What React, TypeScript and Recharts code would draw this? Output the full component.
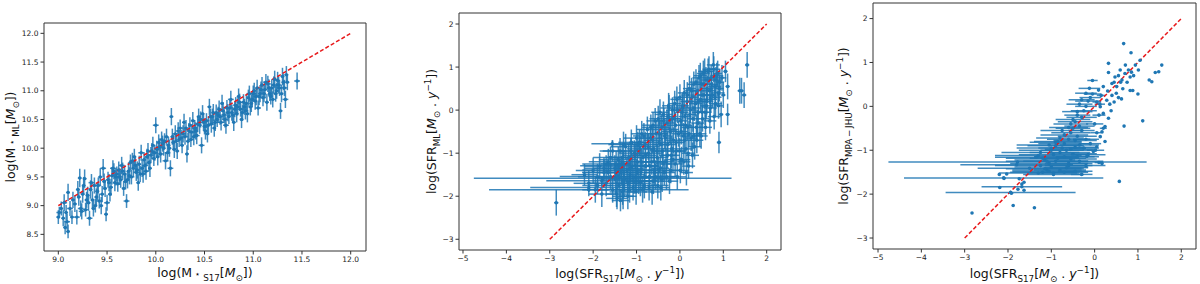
import React from 'react';
import { ScatterChart, Scatter, XAxis, YAxis, ErrorBar, ReferenceLine } from 'recharts';

// ---- DATA ----
// Panel 1: log M* (S17) vs log M* (ML): [x, y, xErr, yErr]
const massPoints: number[][] = [
  [9.00, 8.80, 0.02, 0.12], [9.01, 8.88, 0.03, 0.10], [9.03, 8.95, 0.02, 0.12], [9.05, 8.78, 0.02, 0.14],
  [9.06, 9.05, 0.03, 0.15], [9.07, 8.62, 0.02, 0.12], [9.08, 8.88, 0.02, 0.13], [9.09, 8.72, 0.03, 0.14],
  [9.10, 8.55, 0.02, 0.12], [9.10, 9.23, 0.02, 0.15], [9.12, 8.95, 0.03, 0.13], [9.14, 8.80, 0.02, 0.12],
  [9.17, 9.03, 0.02, 0.14], [9.19, 8.80, 0.03, 0.13], [9.20, 9.28, 0.02, 0.15], [9.22, 9.48, 0.02, 0.16],
  [9.23, 8.95, 0.03, 0.14], [9.25, 9.20, 0.02, 0.15], [9.27, 9.47, 0.02, 0.16], [9.28, 8.93, 0.03, 0.12],
  [9.30, 9.18, 0.02, 0.15], [9.31, 9.05, 0.02, 0.14], [9.32, 8.78, 0.03, 0.13], [9.33, 9.28, 0.02, 0.16],
  [9.35, 9.10, 0.02, 0.15], [9.37, 9.35, 0.03, 0.14], [9.38, 9.00, 0.02, 0.12], [9.40, 9.25, 0.02, 0.16],
  [9.42, 9.08, 0.03, 0.13], [9.43, 9.50, 0.02, 0.15], [9.45, 9.20, 0.02, 0.14], [9.46, 9.65, 0.03, 0.16],
  [9.48, 9.30, 0.02, 0.15], [9.49, 8.85, 0.02, 0.12], [9.50, 9.05, 0.03, 0.14], [9.52, 9.40, 0.02, 0.15],
  [9.53, 9.20, 0.02, 0.13], [9.55, 9.52, 0.03, 0.15], [9.57, 9.60, 0.02, 0.14], [9.58, 9.40, 0.02, 0.15],
  [9.60, 9.55, 0.03, 0.13], [9.62, 9.62, 0.02, 0.15], [9.64, 9.45, 0.02, 0.14], [9.65, 9.70, 0.03, 0.15],
  [9.67, 9.30, 0.02, 0.13], [9.68, 9.55, 0.02, 0.15], [9.70, 9.08, 0.03, 0.12], [9.72, 9.60, 0.02, 0.15],
  [9.74, 9.75, 0.02, 0.14], [9.75, 9.50, 0.03, 0.13], [9.77, 9.65, 0.02, 0.15], [9.78, 9.85, 0.02, 0.14],
  [9.80, 9.58, 0.03, 0.15], [9.82, 9.40, 0.02, 0.14], [9.83, 9.72, 0.02, 0.15], [9.85, 9.92, 0.03, 0.14],
  [9.86, 9.65, 0.02, 0.15], [9.88, 9.80, 0.02, 0.13], [9.90, 9.60, 0.03, 0.15], [9.92, 9.95, 0.02, 0.14],
  [9.93, 9.75, 0.02, 0.15], [9.95, 9.88, 0.03, 0.14], [9.97, 10.05, 0.02, 0.15], [9.98, 9.82, 0.02, 0.13],
  [10.00, 10.40, 0.03, 0.14], [10.01, 9.98, 0.02, 0.15], [10.03, 10.10, 0.02, 0.14], [10.05, 9.90, 0.03, 0.15],
  [10.06, 10.15, 0.02, 0.14], [10.08, 10.00, 0.02, 0.13], [10.10, 9.78, 0.03, 0.15], [10.11, 10.20, 0.02, 0.14],
  [10.13, 10.05, 0.02, 0.15], [10.15, 9.65, 0.03, 0.14], [10.16, 10.55, 0.02, 0.15], [10.18, 10.10, 0.02, 0.14],
  [10.20, 10.25, 0.03, 0.15], [10.22, 9.95, 0.02, 0.14], [10.24, 10.15, 0.02, 0.13], [10.25, 10.35, 0.03, 0.15],
  [10.27, 10.05, 0.02, 0.14], [10.29, 10.45, 0.02, 0.15], [10.30, 10.20, 0.03, 0.14], [10.32, 9.90, 0.02, 0.15],
  [10.34, 10.30, 0.02, 0.14], [10.36, 10.15, 0.03, 0.13], [10.38, 10.48, 0.02, 0.15], [10.40, 10.35, 0.02, 0.14],
  [10.42, 10.22, 0.03, 0.15], [10.44, 10.55, 0.02, 0.14], [10.45, 10.40, 0.02, 0.15], [10.47, 10.05, 0.03, 0.14],
  [10.48, 10.60, 0.02, 0.15], [10.50, 10.38, 0.02, 0.14], [10.52, 10.48, 0.03, 0.13], [10.53, 10.25, 0.02, 0.15],
  [10.55, 10.72, 0.02, 0.14], [10.57, 10.42, 0.03, 0.15], [10.58, 10.55, 0.02, 0.14], [10.60, 10.35, 0.02, 0.15],
  [10.62, 10.62, 0.03, 0.14], [10.63, 10.50, 0.02, 0.13], [10.65, 10.68, 0.02, 0.15], [10.67, 10.45, 0.03, 0.14],
  [10.68, 10.78, 0.02, 0.15], [10.70, 10.58, 0.02, 0.14], [10.72, 10.40, 0.03, 0.15], [10.73, 10.70, 0.02, 0.14],
  [10.75, 10.55, 0.02, 0.13], [10.77, 10.85, 0.03, 0.15], [10.78, 10.62, 0.02, 0.14], [10.80, 10.45, 0.02, 0.15],
  [10.82, 10.75, 0.03, 0.14], [10.83, 10.60, 0.02, 0.15], [10.85, 10.90, 0.02, 0.14], [10.87, 10.68, 0.03, 0.13],
  [10.88, 10.50, 0.02, 0.15], [10.90, 10.80, 0.02, 0.14], [10.92, 10.65, 0.03, 0.15], [10.95, 10.88, 0.02, 0.14],
  [10.97, 10.72, 0.02, 0.15], [11.00, 10.95, 0.03, 0.14], [11.02, 10.82, 0.02, 0.15], [11.04, 11.05, 0.02, 0.14],
  [11.05, 10.70, 0.03, 0.13], [11.07, 10.95, 0.02, 0.15], [11.09, 11.10, 0.02, 0.14], [11.10, 10.88, 0.03, 0.15],
  [11.12, 11.02, 0.02, 0.14], [11.14, 10.80, 0.02, 0.15], [11.15, 11.12, 0.03, 0.14], [11.17, 10.95, 0.02, 0.13],
  [11.19, 11.05, 0.02, 0.15], [11.20, 10.85, 0.03, 0.14], [11.22, 11.20, 0.02, 0.15], [11.24, 11.00, 0.02, 0.14],
  [11.26, 11.10, 0.03, 0.15], [11.28, 10.65, 0.02, 0.14], [11.30, 11.25, 0.02, 0.15], [11.32, 11.05, 0.03, 0.14],
  [11.34, 11.28, 0.02, 0.15], [11.35, 11.15, 0.02, 0.14], [11.45, 11.17, 0.03, 0.15],
  [10.35, 10.40, 0.02, 0.14], [10.41, 10.30, 0.02, 0.15], [10.46, 10.50, 0.03, 0.14], [10.51, 10.30, 0.02, 0.15],
  [10.56, 10.55, 0.02, 0.14], [10.61, 10.45, 0.03, 0.15], [10.64, 10.58, 0.02, 0.14], [10.69, 10.65, 0.02, 0.15],
  [10.71, 10.50, 0.03, 0.14], [10.76, 10.70, 0.02, 0.15], [10.79, 10.58, 0.02, 0.14], [10.84, 10.72, 0.03, 0.15],
  [10.89, 10.62, 0.02, 0.14], [10.93, 10.78, 0.02, 0.15], [10.99, 10.85, 0.03, 0.14], [11.06, 10.90, 0.02, 0.15],
  [9.96, 9.95, 0.02, 0.14], [10.04, 10.02, 0.03, 0.15], [10.09, 10.12, 0.02, 0.14], [10.14, 10.00, 0.02, 0.15],
  [9.63, 9.50, 0.03, 0.14], [9.71, 9.45, 0.02, 0.15], [9.79, 9.70, 0.02, 0.14], [9.87, 9.55, 0.03, 0.15],
  [9.51, 9.45, 0.02, 0.14], [9.54, 9.32, 0.02, 0.15], [9.56, 9.65, 0.03, 0.14], [9.59, 9.50, 0.02, 0.15],
  [9.61, 9.38, 0.02, 0.14], [9.66, 9.60, 0.03, 0.15], [9.69, 9.42, 0.02, 0.14], [9.73, 9.52, 0.02, 0.15],
  [9.76, 9.78, 0.03, 0.14], [9.81, 9.62, 0.02, 0.15], [9.84, 9.55, 0.02, 0.14], [9.89, 9.70, 0.03, 0.15],
  [9.91, 9.85, 0.02, 0.14], [9.94, 9.65, 0.02, 0.15], [9.99, 9.92, 0.03, 0.14], [10.02, 9.85, 0.02, 0.15],
  [10.07, 10.08, 0.02, 0.14], [10.12, 9.92, 0.03, 0.15], [10.17, 10.20, 0.02, 0.14], [10.19, 9.98, 0.02, 0.15],
  [10.21, 10.12, 0.03, 0.14], [10.23, 10.30, 0.02, 0.15], [10.26, 10.18, 0.02, 0.14], [10.28, 10.25, 0.03, 0.15],
  [10.31, 10.35, 0.02, 0.14], [10.33, 10.12, 0.02, 0.15], [10.37, 10.28, 0.03, 0.14], [10.39, 10.20, 0.02, 0.15],
  [10.43, 10.42, 0.02, 0.14], [10.49, 10.45, 0.03, 0.15], [10.54, 10.40, 0.02, 0.14], [10.59, 10.62, 0.02, 0.15],
  [10.66, 10.55, 0.03, 0.14], [10.74, 10.62, 0.02, 0.15], [10.81, 10.68, 0.02, 0.14], [10.86, 10.80, 0.03, 0.15],
  [10.91, 10.72, 0.02, 0.14], [10.94, 10.60, 0.02, 0.15], [10.96, 10.95, 0.03, 0.14], [10.98, 10.78, 0.02, 0.15],
  [11.01, 11.00, 0.02, 0.14], [11.03, 10.90, 0.03, 0.15], [11.08, 11.02, 0.02, 0.14], [11.11, 10.95, 0.02, 0.15],
  [11.13, 11.15, 0.03, 0.14], [11.16, 11.05, 0.02, 0.15], [11.18, 10.90, 0.02, 0.14], [11.21, 11.10, 0.03, 0.15],
  [11.23, 10.95, 0.02, 0.14], [11.25, 11.18, 0.02, 0.15], [11.27, 11.05, 0.03, 0.14], [11.29, 10.95, 0.02, 0.15],
  [11.31, 11.15, 0.02, 0.14], [11.33, 10.85, 0.03, 0.15], [9.15, 9.10, 0.02, 0.14], [9.21, 9.15, 0.02, 0.15],
  [9.24, 8.90, 0.03, 0.14], [9.26, 9.35, 0.02, 0.15], [9.29, 9.10, 0.02, 0.14], [9.34, 9.40, 0.03, 0.15],
  [9.36, 8.95, 0.02, 0.14], [9.39, 9.15, 0.02, 0.15], [9.41, 9.35, 0.03, 0.14], [9.44, 9.00, 0.02, 0.15],
  [9.47, 9.42, 0.02, 0.14],
];

// Panel 2: log SFR (S17) vs log SFR (ML): [x, y, xErr, yErr]
const sfrMlPoints: number[][] = [
  [-1.78, -1.58, 2.97, 0.05], [-2.10, -1.85, 2.30, 0.05], [-2.10, -1.80, 1.35, 0.05], [-1.56, -0.78, 0.48, 0.08],
  [-1.40, -1.54, 1.37, 0.10], [-1.80, -1.64, 1.28, 0.10], [-1.40, -1.29, 0.90, 0.15], [-1.35, -1.39, 0.90, 0.20],
  [-2.85, -2.15, 0.05, 0.30],
  [-2.20, -1.50, 0.30, 0.25], [-2.10, -1.70, 0.35, 0.30], [-2.00, -1.40, 0.40, 0.30], [-1.95, -1.85, 0.30, 0.30],
  [-1.90, -1.55, 0.45, 0.30], [-1.85, -1.30, 0.35, 0.30], [-1.80, -1.95, 0.30, 0.30], [-1.75, -1.45, 0.50, 0.35],
  [-1.70, -1.70, 0.40, 0.30], [-1.65, -1.20, 0.45, 0.30], [-1.60, -1.55, 0.35, 0.30], [-1.55, -1.85, 0.30, 0.30],
  [-1.50, -1.35, 0.50, 0.30], [-1.48, -1.60, 0.40, 0.35], [-1.45, -2.05, 0.25, 0.25], [-1.42, -1.15, 0.45, 0.30],
  [-1.40, -1.75, 0.35, 0.30], [-1.38, -0.95, 0.40, 0.30], [-1.35, -1.45, 0.50, 0.30], [-1.32, -1.90, 0.30, 0.30],
  [-1.30, -1.25, 0.45, 0.30], [-1.28, -1.60, 0.35, 0.30], [-1.25, -0.85, 0.35, 0.30], [-1.22, -1.40, 0.40, 0.30],
  [-1.20, -1.70, 0.30, 0.30], [-1.18, -1.10, 0.40, 0.30], [-1.15, -1.50, 0.35, 0.30], [-1.12, -0.75, 0.30, 0.30],
  [-1.10, -1.30, 0.40, 0.30], [-1.08, -1.80, 0.30, 0.30], [-1.05, -1.00, 0.35, 0.30], [-1.02, -1.55, 0.30, 0.30],
  [-1.00, -0.65, 0.30, 0.30], [-0.98, -1.20, 0.35, 0.30], [-0.95, -1.65, 0.30, 0.30], [-0.92, -0.90, 0.30, 0.30],
  [-0.90, -1.40, 0.35, 0.30], [-0.88, -0.55, 0.25, 0.30], [-0.85, -1.10, 0.30, 0.30], [-0.82, -1.75, 0.25, 0.30],
  [-0.80, -0.80, 0.30, 0.30], [-0.78, -1.30, 0.30, 0.30], [-0.75, -0.45, 0.25, 0.30], [-0.72, -1.00, 0.30, 0.30],
  [-0.70, -1.55, 0.25, 0.30], [-0.68, -0.65, 0.25, 0.30], [-0.65, -1.20, 0.30, 0.30], [-0.62, -0.35, 0.25, 0.30],
  [-0.60, -0.90, 0.25, 0.30], [-0.58, -1.45, 0.25, 0.30], [-0.55, -0.55, 0.25, 0.30], [-0.52, -1.10, 0.25, 0.30],
  [-0.50, -0.20, 0.20, 0.30], [-0.48, -0.75, 0.25, 0.30], [-0.45, -1.35, 0.20, 0.30], [-0.42, -0.40, 0.20, 0.30],
  [-0.40, -0.95, 0.25, 0.30], [-0.38, -0.10, 0.20, 0.30], [-0.35, -0.60, 0.20, 0.30], [-0.32, -1.20, 0.20, 0.30],
  [-0.30, -0.30, 0.20, 0.30], [-0.28, -0.80, 0.20, 0.30], [-0.25, 0.05, 0.20, 0.30], [-0.22, -0.50, 0.20, 0.30],
  [-0.20, -1.05, 0.20, 0.30], [-0.18, -0.20, 0.20, 0.30], [-0.15, -0.70, 0.20, 0.30], [-0.12, 0.15, 0.15, 0.30],
  [-0.10, -0.35, 0.20, 0.30], [-0.08, -0.95, 0.20, 0.30], [-0.05, 0.00, 0.15, 0.30], [-0.03, -0.55, 0.20, 0.30],
  [0.00, 0.30, 0.15, 0.30], [0.02, -0.25, 0.15, 0.30], [0.04, -1.15, 0.20, 0.30], [0.06, 0.10, 0.15, 0.30],
  [0.08, -0.60, 0.15, 0.30], [0.10, 0.40, 0.15, 0.30], [0.12, -0.15, 0.15, 0.30], [0.14, -0.90, 0.15, 0.30],
  [0.16, 0.20, 0.15, 0.30], [0.18, -0.40, 0.15, 0.30], [0.20, -1.30, 0.15, 0.30], [0.22, 0.50, 0.15, 0.30],
  [0.24, 0.00, 0.15, 0.30], [0.26, -0.65, 0.15, 0.30], [0.28, 0.30, 0.15, 0.30], [0.30, -0.20, 0.15, 0.30],
  [0.32, 0.60, 0.15, 0.30], [0.34, -0.85, 0.15, 0.30], [0.36, 0.15, 0.15, 0.30], [0.38, -0.40, 0.15, 0.30],
  [0.40, 0.45, 0.15, 0.30], [0.42, -0.05, 0.15, 0.30], [0.44, 0.75, 0.15, 0.30], [0.46, -0.55, 0.15, 0.30],
  [0.48, 0.25, 0.15, 0.30], [0.50, 0.60, 0.15, 0.30], [0.52, -0.20, 0.15, 0.30], [0.54, 0.85, 0.15, 0.30],
  [0.56, 0.35, 0.15, 0.30], [0.58, -0.05, 0.15, 0.30], [0.60, 0.70, 0.15, 0.30], [0.62, 0.20, 0.15, 0.30],
  [0.65, 0.90, 0.15, 0.30], [0.68, 0.45, 0.15, 0.30], [0.70, 0.05, 0.15, 0.30], [0.72, 0.75, 0.15, 0.30],
  [0.75, 0.35, 0.15, 0.30], [0.78, 0.95, 0.15, 0.30], [0.80, 0.55, 0.15, 0.30], [0.82, 0.15, 0.15, 0.30],
  [0.85, 0.80, 0.15, 0.30], [0.88, 0.40, 0.15, 0.30], [0.90, -0.75, 0.05, 0.25], [0.92, 0.65, 0.10, 0.30],
  [0.95, -0.10, 0.05, 0.30], [0.97, 0.75, 0.10, 0.30], [1.00, 0.35, 0.05, 0.30], [1.05, 0.90, 0.05, 0.25],
  [1.10, 0.55, 0.05, 0.30], [1.10, -0.10, 0.05, 0.25], [1.38, 0.45, 0.05, 0.30], [1.42, 0.45, 0.05, 0.30],
  [1.48, 0.35, 0.05, 0.30], [1.55, 1.05, 0.05, 0.30],
  [-1.46, -1.95, 0.25, 0.30], [-1.44, -1.55, 0.30, 0.30], [-1.47, -1.25, 0.35, 0.30],
  [-1.31, -2.00, 0.25, 0.30], [-1.29, -1.70, 0.30, 0.30], [-1.33, -1.10, 0.35, 0.30],
  [-1.16, -1.85, 0.25, 0.30], [-1.14, -1.35, 0.30, 0.30], [-1.13, -0.95, 0.30, 0.30],
  [-1.01, -1.90, 0.25, 0.30], [-0.99, -1.45, 0.30, 0.30], [-1.03, -1.05, 0.30, 0.30], [-0.97, -0.80, 0.25, 0.30],
  [-0.91, -1.70, 0.25, 0.30], [-0.89, -1.20, 0.30, 0.30], [-0.93, -0.75, 0.25, 0.30],
  [-0.81, -1.55, 0.25, 0.30], [-0.79, -1.05, 0.25, 0.30], [-0.83, -0.60, 0.25, 0.30],
  [-0.71, -1.80, 0.25, 0.30], [-0.69, -1.30, 0.25, 0.30], [-0.73, -0.85, 0.25, 0.30], [-0.67, -0.40, 0.20, 0.30],
  [-0.61, -1.65, 0.25, 0.30], [-0.59, -1.20, 0.25, 0.30], [-0.63, -0.70, 0.20, 0.30], [-0.57, -0.25, 0.20, 0.30],
  [-0.51, -1.75, 0.25, 0.30], [-0.49, -1.40, 0.25, 0.30], [-0.53, -0.95, 0.20, 0.30], [-0.47, -0.55, 0.20, 0.30], [-0.46, -0.05, 0.20, 0.30],
  [-0.41, -1.60, 0.20, 0.30], [-0.39, -1.25, 0.20, 0.30], [-0.43, -0.80, 0.20, 0.30], [-0.37, -0.25, 0.20, 0.30],
  [-0.31, -1.55, 0.20, 0.30], [-0.29, -1.05, 0.20, 0.30], [-0.33, -0.65, 0.20, 0.30], [-0.27, -0.15, 0.20, 0.30], [-0.26, 0.10, 0.15, 0.30],
  [-0.21, -1.40, 0.20, 0.30], [-0.19, -0.90, 0.20, 0.30], [-0.23, -0.45, 0.20, 0.30], [-0.17, 0.00, 0.15, 0.30],
  [-0.11, -1.25, 0.20, 0.30], [-0.09, -0.75, 0.20, 0.30], [-0.13, -0.20, 0.15, 0.30], [-0.07, 0.25, 0.15, 0.30],
  [0.01, -1.40, 0.20, 0.30], [-0.01, -0.95, 0.15, 0.30], [0.03, -0.50, 0.15, 0.30], [0.05, -0.05, 0.15, 0.30],
  [0.09, -1.20, 0.15, 0.30], [0.11, -0.70, 0.15, 0.30], [0.13, -0.35, 0.15, 0.30], [0.07, 0.05, 0.15, 0.30],
  [0.19, -1.00, 0.15, 0.30], [0.21, -0.55, 0.15, 0.30], [0.23, -0.10, 0.15, 0.30], [0.17, 0.35, 0.15, 0.30],
  [0.29, -1.05, 0.15, 0.30], [0.31, -0.60, 0.15, 0.30], [0.33, 0.05, 0.15, 0.30], [0.27, 0.45, 0.15, 0.30],
  [0.39, -0.70, 0.15, 0.30], [0.41, -0.30, 0.15, 0.30], [0.43, 0.20, 0.15, 0.30], [0.37, 0.65, 0.15, 0.30],
  [0.49, -0.60, 0.15, 0.30], [0.51, -0.05, 0.15, 0.30], [0.53, 0.35, 0.15, 0.30], [0.47, 0.80, 0.15, 0.30],
  [0.59, -0.40, 0.15, 0.30], [0.61, 0.10, 0.15, 0.30], [0.63, 0.50, 0.15, 0.30], [0.57, 0.90, 0.15, 0.30],
  [0.69, -0.25, 0.15, 0.30], [0.71, 0.25, 0.15, 0.30], [0.73, 0.60, 0.15, 0.30], [0.67, 0.95, 0.15, 0.30],
  [0.79, -0.15, 0.15, 0.30], [0.81, 0.30, 0.15, 0.30], [0.83, 0.70, 0.15, 0.30], [0.77, 1.05, 0.15, 0.30],
  [0.89, 0.10, 0.10, 0.30], [0.91, 0.50, 0.10, 0.30], [0.87, 0.85, 0.10, 0.30],
  [-1.70, -1.25, 0.55, 0.20], [-1.65, -1.45, 0.60, 0.20], [-1.90, -1.75, 0.35, 0.20], [-1.75, -1.35, 0.45, 0.20],
  [-1.60, -1.10, 0.40, 0.25], [-1.55, -0.95, 0.30, 0.25], [-1.30, -0.80, 0.35, 0.30],
  [-1.37, -2.10, 0.20, 0.25], [-1.20, -2.00, 0.20, 0.30], [-0.86, -1.85, 0.20, 0.30], [-0.64, -1.90, 0.20, 0.30],
  [-0.44, -1.80, 0.20, 0.30], [-0.24, -1.65, 0.20, 0.30], [-0.06, -1.55, 0.20, 0.30], [0.15, -1.45, 0.15, 0.30],
  [-0.56, -1.55, 0.25, 0.30], [-0.36, -1.45, 0.25, 0.30], [-0.16, -1.15, 0.20, 0.30], [-1.06, -1.65, 0.30, 0.30],
];

// Panel 3: log SFR (S17) vs log SFR (MPA-JHU): [x, y, xErr]
const sfrMpaPoints: number[][] = [
  [-1.78, -1.27, 2.98], [-2.10, -1.63, 2.30], [-1.94, -1.96, 1.50], [-1.68, -1.83, 0.93],
  [-1.80, -1.33, 1.30], [-1.50, -1.41, 1.20], [-1.35, -1.16, 0.95],
  [-1.20, -1.50, 0.75], [-1.10, -1.45, 0.80], [-1.00, -1.38, 0.85], [-0.95, -1.52, 0.60],
  [-1.05, -1.30, 0.90], [-0.90, -1.25, 0.75], [-1.15, -1.22, 0.70], [-0.85, -1.18, 0.65],
  [-0.95, -1.10, 0.80], [-0.80, -1.05, 0.70], [-1.00, -1.00, 0.75], [-0.75, -0.95, 0.55],
  [-0.90, -0.90, 0.65], [-0.70, -0.85, 0.60], [-0.85, -0.80, 0.55], [-0.65, -1.40, 0.50],
  [-0.60, -1.30, 0.55], [-0.55, -1.20, 0.60], [-0.70, -1.15, 0.70], [-0.50, -1.08, 0.55],
  [-0.65, -1.00, 0.60], [-0.45, -0.93, 0.50], [-0.60, -0.75, 0.50], [-0.40, -0.68, 0.45],
  [-0.55, -0.60, 0.45], [-0.50, -0.50, 0.40], [-0.35, -0.45, 0.35], [-0.45, -0.35, 0.40],
  [-0.30, -0.25, 0.35], [-0.40, -0.20, 0.30], [-0.25, -0.10, 0.30], [-0.20, 0.00, 0.25],
  [-0.15, 0.12, 0.30], [-0.10, 0.20, 0.25], [-0.05, 0.28, 0.20], [-0.12, 0.41, 0.25],
  [-0.05, 0.59, 0.12], [-0.30, -0.55, 0.30], [-0.20, -0.75, 0.30], [-0.10, -0.85, 0.25],
  [-0.25, -0.95, 0.35], [-0.15, -1.10, 0.40], [-0.35, -1.25, 0.55], [-0.20, -1.35, 0.45],
  [-0.45, -1.48, 0.40], [-0.30, -1.55, 0.25], [0.00, -0.40, 0.20], [0.05, -0.60, 0.15],
  [0.10, -0.20, 0.15], [0.02, -1.00, 0.20], [0.10, -1.28, 0.10], [0.05, 0.10, 0.10],
  [0.12, 0.05, 0.12], [0.15, 0.25, 0.10], [0.20, -0.50, 0.08],
  [-1.25, -1.05, 0.90], [-1.30, -1.12, 1.00], [-1.20, -1.18, 0.85], [-1.10, -1.25, 0.95],
  [-1.25, -1.35, 1.05], [-1.15, -1.42, 0.90], [-1.05, -1.48, 0.85], [-1.30, -1.52, 0.90],
  [-0.95, -1.55, 0.70], [-1.00, -0.95, 0.80], [-1.05, -0.88, 0.75], [-0.90, -0.82, 0.60],
  [-0.80, -0.72, 0.55], [-0.70, -0.65, 0.55], [-0.75, -0.55, 0.50], [-0.60, -0.48, 0.45],
  [-0.55, -0.40, 0.40], [-0.50, -0.30, 0.40], [-0.40, -0.12, 0.35], [-0.35, 0.05, 0.30],
  [-0.30, 0.15, 0.30], [-0.20, 0.30, 0.25], [-0.45, -0.78, 0.50], [-0.35, -0.88, 0.45],
  [-0.55, -0.98, 0.60], [-0.40, -1.15, 0.50], [-0.60, -1.35, 0.55], [-0.80, -1.45, 0.60],
  [-0.70, -1.50, 0.55],
  [-2.83, -2.43, 0], [-1.88, -2.26, 0], [-1.39, -2.31, 0], [0.57, -1.71, 0], [-2.20, -1.55, 0],
  [-2.03, -1.54, 0], [-2.09, -1.64, 0], [-1.74, -1.65, 0], [-1.63, -1.73, 0], [-1.77, -1.89, 0],
  [-1.63, -1.91, 0], [-1.92, -1.98, 0], [-2.19, -1.85, 0], [-1.68, -1.77, 0], [0.68, -0.45, 0],
  [1.11, -0.33, 0], [0.67, 1.43, 0], [0.84, 1.22, 0], [1.55, 0.94, 0], [1.48, 0.79, 0],
  [1.40, 0.77, 0], [1.26, 0.60, 0], [1.32, 0.56, 0], [1.00, 0.28, 0], [0.82, 0.36, 0],
  [0.88, 0.36, 0], [0.62, 0.17, 0], [0.55, 0.20, 0], [0.32, 0.77, 0], [0.32, 0.98, 0],
  [0.59, 0.83, 0], [0.71, 0.94, 0], [0.82, 0.67, 0], [0.94, 0.94, 0], [1.05, 1.05, 0],
  [1.01, 0.83, 0], [0.78, 0.83, 0], [0.47, 0.67, 0], [0.40, 0.52, 0], [0.51, 0.45, 0],
  [0.63, 0.60, 0], [0.20, 0.45, 0], [0.09, 0.37, 0], [0.28, 0.14, 0], [0.13, -0.01, 0],
  [0.20, -0.16, 0], [0.32, -0.27, 0], [0.24, -0.46, 0], [0.17, -0.58, 0], [0.13, -0.69, 0],
  [0.24, -0.80, 0], [0.05, -0.92, 0], [-0.03, -1.03, 0], [0.17, -1.30, 0], [-0.18, -1.14, 0],
  [0.45, 0.55, 0], [0.55, 0.70, 0], [0.70, 0.75, 0], [0.75, 0.55, 0], [0.85, 0.78, 0],
  [0.90, 0.70, 0], [0.65, 0.40, 0], [0.50, 0.30, 0], [0.40, 0.25, 0], [0.35, 0.05, 0],
  [0.45, 0.10, 0], [0.38, -0.10, 0], [0.30, 0.35, 0], [0.60, 0.55, 0],
];

const massTicks = [9.0, 9.5, 10.0, 10.5, 11.0, 11.5, 12.0];
const massYTicks = [8.5, 9.0, 9.5, 10.0, 10.5, 11.0, 11.5, 12.0];
const sfrXTicks = [-5, -4, -3, -2, -1, 0, 1, 2];
const sfrYTicks = [-3, -2, -1, 0, 1, 2];
const massOneToOne = [9, 12];
const sfrOneToOne = [-3, 2];

// ---- STYLE ----
const BLUE = '#1f77b4';
const AX = '#333';
const FONT = '"DejaVu Sans", sans-serif';

type Seg = { t: string; k?: 'sub' | 'sup' | 'small'; it?: boolean };

function MathLabel({ cx, cy, segs, fs, rotate }: { cx: number; cy: number; segs: Seg[]; fs: number; rotate?: boolean }) {
  let cur = 0;
  const kids = segs.map((s, i) => {
    const target = s.k === 'sub' ? fs * 0.28 : s.k === 'sup' ? -fs * 0.42 : s.k === 'small' ? -fs * 0.05 : 0;
    const dy = target - cur;
    cur = target;
    const size = s.k ? fs * 0.7 : fs;
    return (
      <tspan key={i} dy={dy} fontSize={size} fontStyle={s.it ? 'italic' : 'normal'}>
        {s.t}
      </tspan>
    );
  });
  const x = rotate ? cx + fs * 0.35 : cx;
  const y = rotate ? cy : cy + fs * 0.35;
  return (
    <text x={x} y={y} textAnchor="middle" fontFamily={FONT} fontSize={fs} fill="#111"
      transform={rotate ? `rotate(-90 ${x} ${y})` : undefined} style={{ whiteSpace: 'pre' }}>
      {kids}
    </text>
  );
}

const fmtMass = (v: number) => v.toFixed(1);
const fmtInt = (v: number) => (v < 0 ? '\u2212' + Math.abs(v) : String(v));

type PanelProps = {
  left: number;
  rows: { x: number; y: number; ex: number; ey: number }[];
  margin: { top: number; right: number; bottom: number; left: number };
  yW: number;
  xH: number;
  xDomain: [number, number];
  yDomain: [number, number];
  xTicks: number[];
  yTicks: number[];
  fmt: (v: number) => string;
  diag: number[];
  xLabel: Seg[];
  yLabel: Seg[];
  yLabelX: number;
  xLabelY: number;
  r: number;
  hasY: boolean;
};

function Panel(p: PanelProps) {
  const W = 400;
  const H = 284;
  const plotLeft = p.margin.left + p.yW;
  const plotRight = W - p.margin.right;
  const plotTop = p.margin.top;
  const plotBottom = H - p.margin.bottom - p.xH;
  const tickStyle = { fontSize: 7.5, fill: '#222', fontFamily: FONT };
  return (
    <div style={{ position: 'absolute', left: p.left, top: 0, width: W, height: H }}>
      <ScatterChart width={W} height={H} margin={p.margin}>
        <XAxis type="number" dataKey="x" domain={p.xDomain} ticks={p.xTicks} allowDataOverflow
          tickFormatter={p.fmt} height={p.xH} tick={tickStyle} tickSize={3.5} tickMargin={2}
          axisLine={{ stroke: AX }} tickLine={{ stroke: AX }} interval={0}
          label={{ content: () => <MathLabel cx={(plotLeft + plotRight) / 2} cy={p.xLabelY} segs={p.xLabel} fs={12.5} /> }} />
        <YAxis type="number" dataKey="y" domain={p.yDomain} ticks={p.yTicks} allowDataOverflow
          tickFormatter={p.fmt} width={p.yW} tick={tickStyle} tickSize={3.5} tickMargin={2}
          axisLine={{ stroke: AX }} tickLine={{ stroke: AX }} interval={0}
          label={{ content: () => <MathLabel cx={p.yLabelX} cy={(plotTop + plotBottom) / 2} segs={p.yLabel} fs={12.5} rotate /> }} />
        <Scatter data={p.rows} isAnimationActive={false}
          shape={(s: any) => <circle cx={s.cx} cy={s.cy} r={p.r} fill={BLUE} />}>
          <ErrorBar dataKey="ex" direction="x" width={0} stroke={BLUE} strokeWidth={1.5} strokeOpacity={0.85} />
          {p.hasY && <ErrorBar dataKey="ey" direction="y" width={0} stroke={BLUE} strokeWidth={1.5} strokeOpacity={0.85} />}
        </Scatter>
        <ReferenceLine segment={[{ x: p.diag[0], y: p.diag[0] }, { x: p.diag[1], y: p.diag[1] }]}
          stroke="#e8191b" strokeWidth={1.5} strokeDasharray="4 2.2" ifOverflow="visible" />
        <ReferenceLine x={p.xDomain[1]} stroke={AX} strokeWidth={1} ifOverflow="visible" />
        <ReferenceLine y={p.yDomain[1]} stroke={AX} strokeWidth={1} ifOverflow="visible" />
      </ScatterChart>
    </div>
  );
}

const toRows = (arr: number[][]) => arr.map((d) => ({ x: d[0], y: d[1], ex: d[2], ey: d[3] ?? 0 }));

const starLabel = (sub: string): Seg[] => [
  { t: 'log(M' }, { t: ' \u22c6 ', k: 'small' }, { t: sub, k: 'sub' }, { t: '[' }, { t: 'M', it: true },
  { t: '\u2299', k: 'sub' }, { t: '])' },
];
const sfrLabel = (sub: string): Seg[] => [
  { t: 'log(SFR' }, { t: sub, k: 'sub' }, { t: '[' }, { t: 'M', it: true }, { t: '\u2299', k: 'sub' },
  { t: ' . ' }, { t: 'y', it: true }, { t: '\u22121', k: 'sup' }, { t: '])' },
];

export default function App() {
  return (
    <div style={{ position: 'absolute', left: 0, top: 0, width: 1200, height: 284, background: '#fff', overflow: 'hidden' }}>
      <Panel left={0} rows={toRows(massPoints)} margin={{ top: 23, right: 34, bottom: 0, left: 0 }}
        yW={44} xH={33} xDomain={[8.853, 12.157]} yDomain={[8.21, 12.18]} xTicks={massTicks} yTicks={massYTicks}
        fmt={fmtMass} diag={massOneToOne} xLabel={starLabel('S17')} yLabel={starLabel('ML')}
        yLabelX={11} xLabelY={273} r={1.7} hasY />
      <Panel left={400} rows={toRows(sfrMlPoints)} margin={{ top: 13, right: 19, bottom: 0, left: 0 }}
        yW={59} xH={34} xDomain={[-5.092, 2.33]} yDomain={[-3.249, 2.256]} xTicks={sfrXTicks} yTicks={sfrYTicks}
        fmt={fmtInt} diag={sfrOneToOne} xLabel={sfrLabel('S17')} yLabel={sfrLabel('ML')}
        yLabelX={32} xLabelY={274} r={1.8} hasY />
      <Panel left={800} rows={toRows(sfrMpaPoints)} margin={{ top: 3, right: 4, bottom: 0, left: 0 }}
        yW={73} xH={35} xDomain={[-5.116, 2.34]} yDomain={[-3.25, 2.355]} xTicks={sfrXTicks} yTicks={sfrYTicks}
        fmt={fmtInt} diag={sfrOneToOne} xLabel={sfrLabel('S17')} yLabel={sfrLabel('MPA\u2009\u2212\u2009JHU')}
        yLabelX={44} xLabelY={274} r={1.8} hasY={false} />
    </div>
  );
}
